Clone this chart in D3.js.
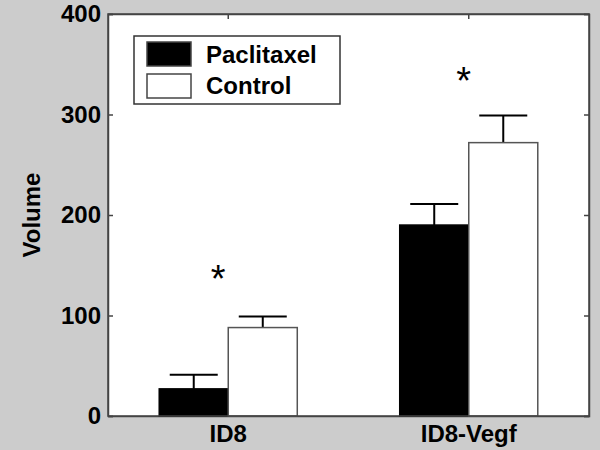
<!DOCTYPE html>
<html>
<head>
<meta charset="utf-8">
<script src="https://cdn.jsdelivr.net/npm/d3@7"></script>
<style>
  body { margin: 0; background: #cccccc; }
  svg { display: block; font-family: "Liberation Sans", Arial, sans-serif; font-weight: bold; }
</style>
</head>
<body>
<svg id="chart"></svg>
<script>
// data
const groups = ["ID8", "ID8-Vegf"];
const seriesNames = ["Paclitaxel", "Control"];
const paclitaxel = [27, 190];
const paclitaxelErr = [14, 21];
const control = [88, 272];
const controlErr = [11, 27];
const yTicks = [0, 100, 200, 300, 400];
const starY = [145, 342]; // centre height of the significance star per group

const width = 600, height = 450;
const margin = { top: 14, right: 11, bottom: 34, left: 108 };
const innerWidth = width - margin.left - margin.right;
const innerHeight = height - margin.top - margin.bottom;

const svg = d3.select("#chart")
    .attr("width", width)
    .attr("height", height);

const g = svg.append("g")
    .attr("transform", "translate(" + margin.left + "," + margin.top + ")");

// plot area
g.append("rect")
    .attr("width", innerWidth)
    .attr("height", innerHeight)
    .attr("fill", "white");

const x = d3.scaleBand()
    .domain(groups)
    .range([0, innerWidth]);

const y = d3.scaleLinear()
    .domain([0, 400])
    .range([innerHeight, 0]);

const barW = x.bandwidth() * 0.287;
const capW = 48;
const tickLen = 5;

// axes first so the bars cover the bottom ticks
const yAxis = g.append("g")
    .call(d3.axisLeft(y).tickValues(yTicks).tickSize(-tickLen).tickPadding(7));
yAxis.selectAll("text").attr("font-size", 24).attr("fill", "black").attr("font-family", null);

g.append("g")
    .attr("transform", "translate(" + innerWidth + ",0)")
    .call(d3.axisRight(y).tickValues(yTicks).tickSize(-tickLen).tickFormat(""));

const xAxis = g.append("g")
    .attr("transform", "translate(0," + innerHeight + ")")
    .call(d3.axisBottom(x).tickSize(-tickLen).tickSizeOuter(0).tickPadding(9));
xAxis.selectAll("text").attr("font-size", 24).attr("fill", "black").attr("font-family", null);

g.append("g")
    .call(d3.axisTop(x).tickSize(-tickLen).tickSizeOuter(0).tickFormat(""));

g.selectAll(".domain, .tick line").attr("stroke", "#444").attr("stroke-width", 1.5);

const rows = groups.map((grp, i) => ({
    group: grp,
    values: [
        { name: seriesNames[0], v: paclitaxel[i], e: paclitaxelErr[i] },
        { name: seriesNames[1], v: control[i], e: controlErr[i] }
    ]
}));

rows.forEach(r => {
    const cx = x(r.group) + x.bandwidth() / 2;
    r.values.forEach((d, j) => {
        const x0 = j === 0 ? cx - barW : cx;
        const mid = x0 + barW / 2;
        // error bar (upper only)
        g.append("line")
            .attr("x1", mid).attr("x2", mid)
            .attr("y1", y(d.v)).attr("y2", y(d.v + d.e))
            .attr("stroke", "black").attr("stroke-width", 2);
        g.append("line")
            .attr("x1", mid - capW / 2).attr("x2", mid + capW / 2)
            .attr("y1", y(d.v + d.e)).attr("y2", y(d.v + d.e))
            .attr("stroke", "black").attr("stroke-width", 2);
        g.append("rect")
            .attr("x", x0)
            .attr("y", y(d.v))
            .attr("width", barW)
            .attr("height", y(0) - y(d.v))
            .attr("fill", j === 0 ? "black" : "white")
            .attr("stroke", j === 0 ? "black" : "#555")
            .attr("stroke-width", 1.5);
    });
});

// box border
g.append("rect")
    .attr("width", innerWidth)
    .attr("height", innerHeight)
    .attr("fill", "none")
    .attr("stroke", "#444")
    .attr("stroke-width", 1.5);

// stars
const starSize = 38;
g.selectAll(".star")
    .data(groups)
    .enter().append("text")
    .attr("class", "star")
    .attr("x", (d, i) => x(d) + x.bandwidth() / 2 - 10 + i * 5)
    .attr("y", (d, i) => y(starY[i]) + starSize * 0.56)
    .attr("text-anchor", "middle")
    .attr("font-size", starSize)
    .attr("font-weight", "normal")
    .text("*");

// y label
svg.append("text")
    .attr("transform", "translate(40," + (margin.top + innerHeight / 2) + ") rotate(-90)")
    .attr("text-anchor", "middle")
    .attr("font-size", 24)
    .text("Volume");

// legend
const legend = g.append("g").attr("transform", "translate(26,22)");
legend.append("rect")
    .attr("width", 206).attr("height", 68)
    .attr("fill", "white").attr("stroke", "#333").attr("stroke-width", 1.5);
seriesNames.forEach((name, i) => {
    legend.append("rect")
        .attr("x", 13).attr("y", 6 + i * 32)
        .attr("width", 44).attr("height", 24)
        .attr("fill", i === 0 ? "black" : "white")
        .attr("stroke", "#444").attr("stroke-width", 1.5);
    legend.append("text")
        .attr("x", 72).attr("y", 27 + i * 31)
        .attr("font-size", 24)
        .text(name);
});
</script>
</body>
</html>
